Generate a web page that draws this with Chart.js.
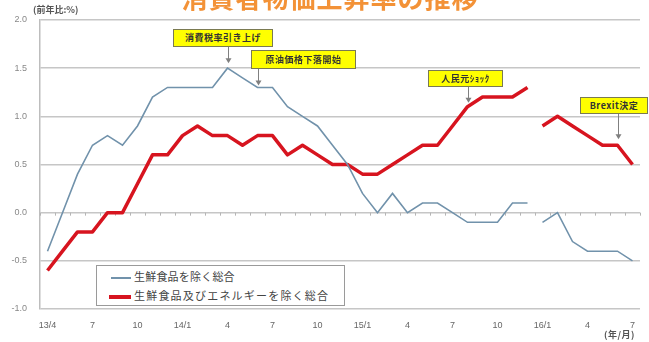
<!DOCTYPE html>
<html lang="ja">
<head>
<meta charset="utf-8">
<script src="https://cdn.jsdelivr.net/npm/chart.js@4.4.1/dist/chart.umd.min.js"></script>
<style>
  html, body { margin: 0; padding: 0; background: #fff; }
  #wrap { position: relative; width: 649px; height: 342px; overflow: hidden; font-family: "Noto Sans CJK JP", sans-serif; }
  #chart { position: absolute; left: 0; top: 0; }
  .title { position: absolute; left: 0; width: 660px; top: -22px; text-align: center; color: #f39237; font-size: 26px; font-weight: bold; letter-spacing: 1px; }
  .unit { position: absolute; left: 33px; top: 3px; font-size: 9px; color: #555; font-weight: bold; }
  .unit2 { position: absolute; left: 604px; top: 329px; font-size: 9px; line-height: 11px; color: #555; font-weight: bold; letter-spacing: 0.5px; }
  .legend { position: absolute; left: 96px; top: 265px; width: 249px; height: 41px; border: 1.5px solid #9a9a9a; background: #fff; box-sizing: border-box; }
  .legend .row { position: absolute; left: 14px; height: 14px; line-height: 14px; font-size: 11px; color: #444; white-space: nowrap; }
  .legend .row i { display: inline-block; vertical-align: middle; margin-right: 3px; }
  .callout { position: absolute; background: #ffff00; border: 1px solid #7a7a52; font-size: 9px; color: #333; text-align: center; box-sizing: border-box; white-space: nowrap; letter-spacing: 0.5px; font-weight: bold; }
</style>
</head>
<body>
<div id="wrap">
  <canvas id="chart" width="649" height="342"></canvas>
  <div class="title">消費者物価上昇率の推移</div>
  <div class="unit">(前年比:%)</div>
  <div class="unit2">(年/月)</div>
  <div class="legend">
    <div class="row" style="top:3px;letter-spacing:0.2px;"><i style="width:20px;height:2px;background:#7192ab;"></i>生鮮食品を除く総合</div>
    <div class="row" style="top:22px;left:12px;letter-spacing:1.2px;"><i style="width:22px;height:4px;background:#d7141f;"></i>生鮮食品及びエネルギーを除く総合</div>
  </div>
</div>
<script>
// 2013/4 〜 2016/7 の月次
const months = ['13/4','','','7','','','10','','','14/1','','','4','','','7','','','10','','',
                '15/1','','','4','','','7','','','10','','','16/1','','','4','','','7'];

// 生鮮食品を除く総合（前年比, %）
const coreCpi = [
  -0.4, 0.0, 0.4, 0.7, 0.8, 0.7, 0.9, 1.2, 1.3,
  1.3, 1.3, 1.3, 1.5, 1.4, 1.3, 1.3, 1.1, 1.0, 0.9, 0.7, 0.5,
  0.2, 0.0, 0.2, 0.0, 0.1, 0.1, 0.0, -0.1, -0.1, -0.1, 0.1, 0.1,
  -0.1, 0.0, -0.3, -0.4, -0.4, -0.4, -0.5
];

// 生鮮食品及びエネルギーを除く総合（前年比, %）
const coreCoreCpi = [
  -0.6, -0.4, -0.2, -0.2, 0.0, 0.0, 0.3, 0.6, 0.6,
  0.8, 0.9, 0.8, 0.8, 0.7, 0.8, 0.8, 0.6, 0.7, 0.6, 0.5, 0.5,
  0.4, 0.4, 0.5, 0.6, 0.7, 0.7, 0.9, 1.1, 1.2, 1.2, 1.2, 1.3,
  0.9, 1.0, 0.9, 0.8, 0.7, 0.7, 0.5
];

// 基準改定で線を切る位置（15/12 → 16/1）
const BASE_BREAK = 32;

const yTicks = [-1.0, -0.5, 0.0, 0.5, 1.0, 1.5, 2.0];

// 吹き出し: 箱の位置と、矢印が指す系列・月
const callouts = [
  { text: '消費税率引き上げ', left: 173, top: 29, w: 100, h: 18, series: coreCpi,     idx: 12, gap: 5 },
  { text: '原油価格下落開始', left: 251, top: 50, w: 105, h: 19, series: coreCpi,     idx: 14, gap: 2 },
  { text: '人民元ｼｮｯｸ',       left: 428, top: 70, w: 75,  h: 17, series: coreCoreCpi, idx: 28, gap: 4 },
  { text: 'Brexit決定',       left: 580, top: 97, w: 68,  h: 17, series: coreCoreCpi, idx: 38, gap: 6 },
];

const wrap = document.getElementById('wrap');
callouts.forEach(c => {
  const d = document.createElement('div');
  d.className = 'callout';
  d.textContent = c.text;
  Object.assign(d.style, { left: c.left + 'px', top: c.top + 'px', width: c.w + 'px', height: c.h + 'px', lineHeight: (c.h - 2) + 'px' });
  wrap.appendChild(d);
});

const hideBreak = ctx => ctx.p0DataIndex === BASE_BREAK ? 'rgba(0,0,0,0)' : undefined;

// 0%線上の月目盛り
const zeroTicks = {
  id: 'zeroTicks',
  beforeDatasetsDraw(chart) {
    const { ctx, scales: { x, y } } = chart;
    const y0 = y.getPixelForValue(0);
    const step = (x.right - x.left) / months.length;
    ctx.save();
    ctx.strokeStyle = '#b5b5b5';
    ctx.lineWidth = 1;
    ctx.beginPath();
    for (let i = 0; i <= months.length; i++) {
      const px = Math.round(x.left + i * step) + 0.5;
      ctx.moveTo(px, y0);
      ctx.lineTo(px, y0 + 3);
    }
    ctx.stroke();
    ctx.restore();
  }
};

// 吹き出しの矢印
const calloutArrows = {
  id: 'calloutArrows',
  afterDatasetsDraw(chart) {
    const { ctx, scales: { x, y } } = chart;
    ctx.save();
    ctx.strokeStyle = '#808080';
    ctx.fillStyle = '#808080';
    ctx.lineWidth = 1;
    callouts.forEach(c => {
      const px = Math.round(x.getPixelForValue(c.idx)) + 0.5;
      const tip = y.getPixelForValue(c.series[c.idx]) - c.gap;
      const from = c.top + c.h;
      ctx.beginPath();
      ctx.moveTo(px, from);
      ctx.lineTo(px, tip - 2);
      ctx.stroke();
      ctx.beginPath();
      ctx.moveTo(px - 3, tip - 5);
      ctx.lineTo(px + 3, tip - 5);
      ctx.lineTo(px, tip);
      ctx.closePath();
      ctx.fill();
    });
    ctx.restore();
  }
};

new Chart(document.getElementById('chart'), {
  type: 'line',
  data: {
    labels: months,
    datasets: [
      {
        label: '生鮮食品を除く総合',
        data: coreCpi,
        borderColor: '#7192ab',
        borderWidth: 1.6,
        pointRadius: 0,
        tension: 0,
        segment: { borderColor: hideBreak },
      },
      {
        label: '生鮮食品及びエネルギーを除く総合',
        data: coreCoreCpi,
        borderColor: '#d7141f',
        borderWidth: 3.5,
        pointRadius: 0,
        tension: 0,
        borderJoinStyle: 'round',
        segment: { borderColor: hideBreak },
      },
    ],
  },
  options: {
    responsive: false,
    animation: false,
    layout: { padding: { top: 20, right: 9, left: 0, bottom: 0 } },
    plugins: { legend: { display: false }, tooltip: { enabled: false } },
    scales: {
      x: {
        offset: true,
        grid: { display: false },
        border: { display: false },
        ticks: {
          autoSkip: false, maxRotation: 0, padding: 3,
          color: '#666', font: { family: 'Liberation Sans', size: 9 },
        },
        afterFit: s => { s.height = 33; },
      },
      y: {
        min: -1, max: 2,
        afterBuildTicks: s => { s.ticks = yTicks.map(v => ({ value: v })); },
        grid: { color: '#c6c6c6', lineWidth: 1.5, drawTicks: false },
        border: { display: true, color: '#bdbdbd', width: 1.5 },
        ticks: {
          padding: 13,
          color: '#888',
          font: { family: 'Liberation Sans', size: 9 },
          callback: v => Number(v).toFixed(1),
        },
        afterFit: s => { s.width = 40; },
      },
    },
  },
  plugins: [zeroTicks, calloutArrows],
});
</script>
</body>
</html>
